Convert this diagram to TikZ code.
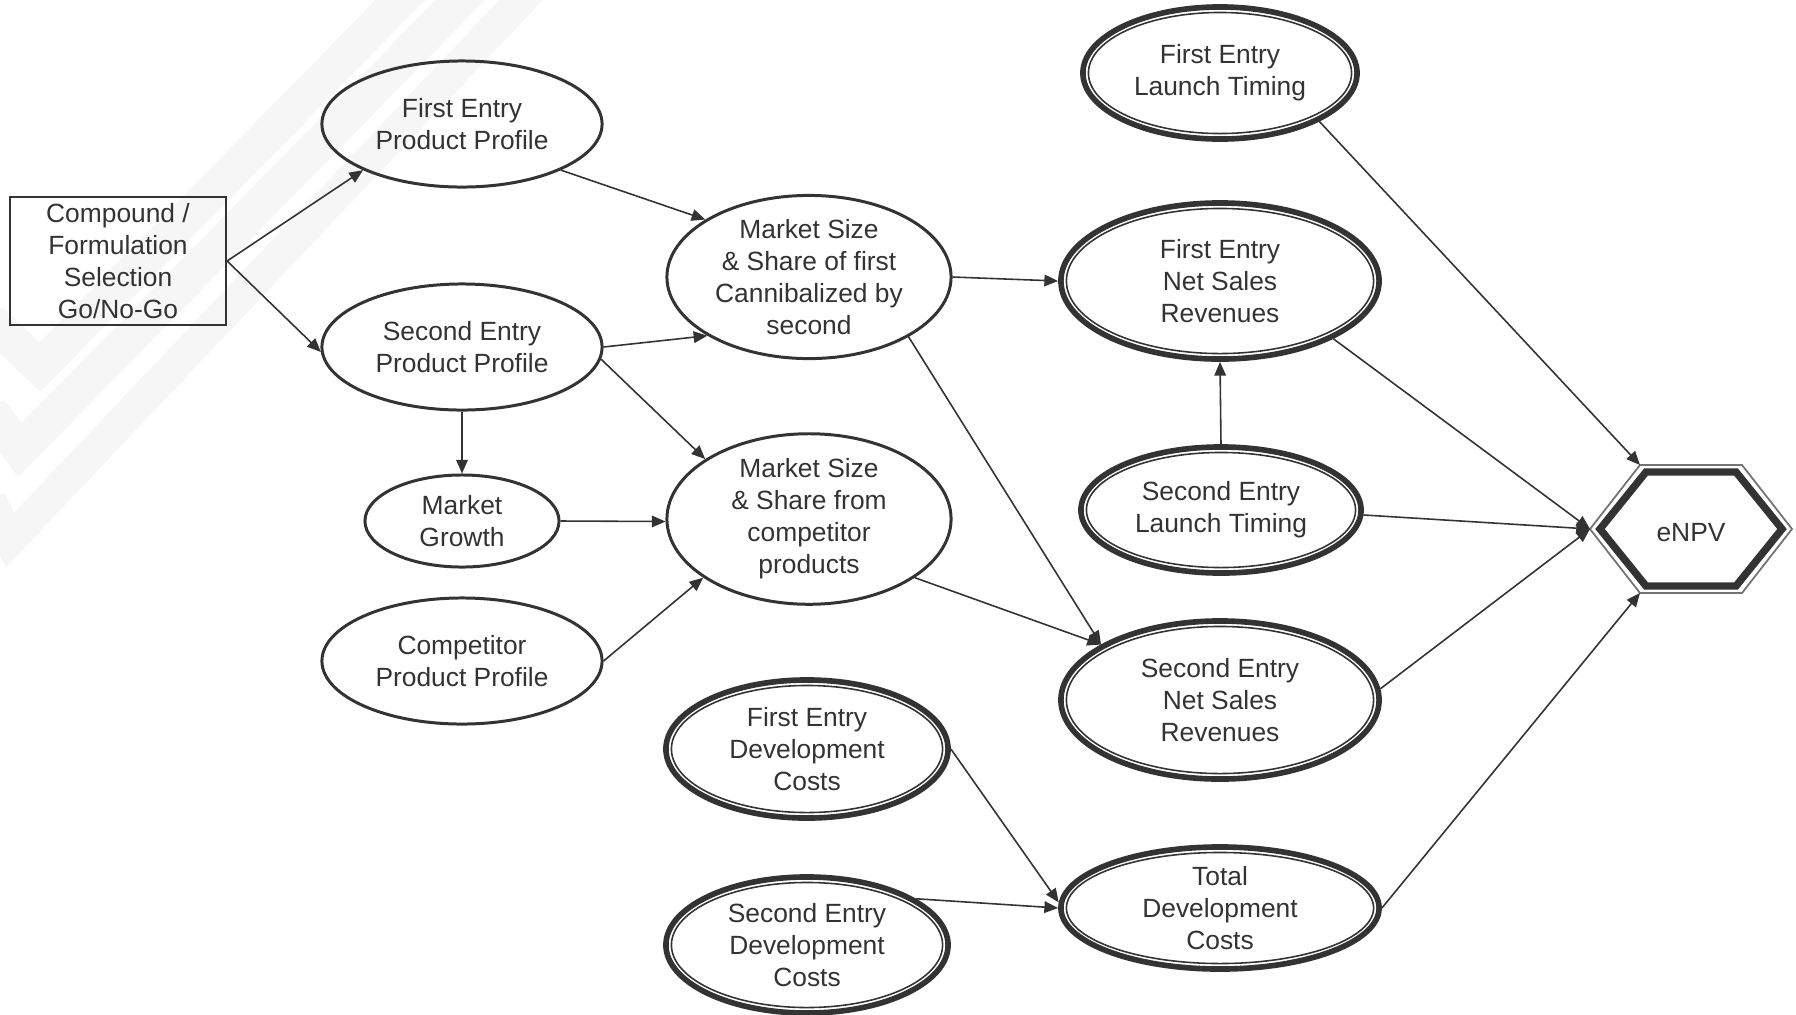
\documentclass[tikz,border=0pt]{standalone}
\usepackage{fontspec}
\setmainfont{Liberation Sans}
\usetikzlibrary{shapes.geometric,arrows.meta}
\definecolor{ink}{HTML}{333333}
\definecolor{mark}{HTML}{F6F6F6}
\begin{document}
\begin{tikzpicture}[x=0.01cm,y=-0.01cm,
  every node/.style={text=ink,font=\fontsize{7.5pt}{9.1pt}\selectfont,align=center,inner sep=0pt,
    execute at begin node={\rule{0pt}{7.3pt}}},
  oval/.style={ellipse,draw=ink,line width=0.85pt},
  dbl/.style={ellipse,draw=ink,line width=1.6pt},
  innerln/.style={draw=ink,line width=0.45pt},
  decision/.style={rectangle,draw=ink,line width=0.6pt,minimum width=2.16cm,minimum height=1.28cm},
  link/.style={draw=ink,line width=0.45pt,-{Triangle[length=3.9pt,width=3.3pt]}}]
\useasboundingbox (0,0) rectangle (1796,1014);
\fill[white] (0,0) rectangle (1796,1014);

% faint background emblem
\begin{scope}[draw=mark,line cap=butt,line join=miter]
  \draw[line width=10pt] (-10,320) -- (40,367) -- (420,-20);
  \draw[line width=10pt] (-10,410) -- (20,450) -- (480,-20);
  \draw[line width=9pt] (-10,500) -- (10,540) -- (540,-20);
  \draw[line width=9pt] (40,-10) arc [start angle=180,end angle=300,x radius=90,y radius=70];
\end{scope}

% left column
\node[decision] (sel) at (118,261) {Compound /\\Formulation\\Selection\\Go/No-Go};
\node[oval,minimum width=2.80cm,minimum height=1.26cm] (fepp) at (462,124) {First Entry\\Product Profile};
\node[oval,minimum width=2.80cm,minimum height=1.26cm] (sepp) at (462,347) {Second Entry\\Product Profile};
\node[oval,minimum width=1.94cm,minimum height=0.92cm] (mg) at (462,521) {Market\\Growth};
\node[oval,minimum width=2.80cm,minimum height=1.26cm] (cpp) at (462,661) {Competitor\\Product Profile};

% market share
\node[oval,minimum width=2.84cm,minimum height=1.52cm] (ms1) at (809,277) {Market Size\\\& Share of first\\Cannibalized by\\second};
\node[oval,minimum width=2.84cm,minimum height=1.56cm] (ms2) at (809,519) {Market Size\\\& Share from\\competitor\\products};

% development costs
\node[dbl,minimum width=2.82cm,minimum height=1.38cm] (fedc) at (807,749) {First Entry\\Development\\Costs};
\draw[innerln] (fedc.center) ellipse [x radius=1.355cm,y radius=0.635cm];
\node[dbl,minimum width=2.82cm,minimum height=1.36cm] (sedc) at (807,945) {Second Entry\\Development\\Costs};
\draw[innerln] (sedc.center) ellipse [x radius=1.355cm,y radius=0.625cm];

% right column
\node[dbl,minimum width=2.74cm,minimum height=1.32cm] (felt) at (1220,73) {First Entry\\Launch Timing};
\draw[innerln] (felt.center) ellipse [x radius=1.315cm,y radius=0.605cm];
\node[dbl,minimum width=3.18cm,minimum height=1.56cm] (fens) at (1220,281) {First Entry\\Net Sales\\Revenues};
\draw[innerln] (fens.center) ellipse [x radius=1.535cm,y radius=0.725cm];
\node[dbl,minimum width=2.80cm,minimum height=1.26cm] (selt) at (1221,510) {Second Entry\\Launch Timing};
\draw[innerln] (selt.center) ellipse [x radius=1.345cm,y radius=0.575cm];
\node[dbl,minimum width=3.18cm,minimum height=1.58cm] (sens) at (1220,700) {Second Entry\\Net Sales\\Revenues};
\draw[innerln] (sens.center) ellipse [x radius=1.535cm,y radius=0.735cm];
\node[dbl,minimum width=3.18cm,minimum height=1.22cm] (tdc) at (1220,908) {Total\\Development\\Costs};
\draw[innerln] (tdc.center) ellipse [x radius=1.535cm,y radius=0.555cm];

% value node
\node (enpv) at (1691,529) {eNPV};
\coordinate (hl) at (1590,529);
\coordinate (htl) at (1640,465);
\coordinate (hbl) at (1640,593);
\draw[black!55,line width=0.5pt] (hl) -- (htl) -- (1742,465) -- (1792,529) -- (1742,593) -- (hbl) -- cycle;
\draw[ink,line width=2.1pt,line join=miter] (1600,529) -- (1646,472) -- (1736,472) -- (1782,529) -- (1736,586) -- (1646,586) -- cycle;

% influences
\draw[link] (sel.east) -- (fepp.205);
\draw[link] (sel.east) -- (sepp.182);
\draw[link] (fepp.335) -- (ms1.151);
\draw[link] (sepp.east) -- (ms1.210);
\draw[link] (sepp.355) -- (ms2.150);
\draw[link] (sepp.south) -- (mg.north);
\draw[link] (mg.east) -- (ms2.181);
\draw[link] (cpp.east) -- (ms2.209);
\draw[link] (ms1.east) -- (fens.west);
\draw[link] (ms1.329) -- (sens.155);
\draw[link] (ms2.331) -- (sens.155);
\draw[link] (selt.north) -- (fens.south);
\draw[link] (felt.334) -- (htl);
\draw[link] (fens.333) -- (hl);
\draw[link] (selt.358) -- (hl);
\draw[link] (sens.4) -- (hl);
\draw[link] (tdc.east) -- (hbl);
\draw[link] (fedc.east) -- (tdc.178);
\draw[link] (sedc.23) -- (tdc.180);
\end{tikzpicture}
\end{document}
